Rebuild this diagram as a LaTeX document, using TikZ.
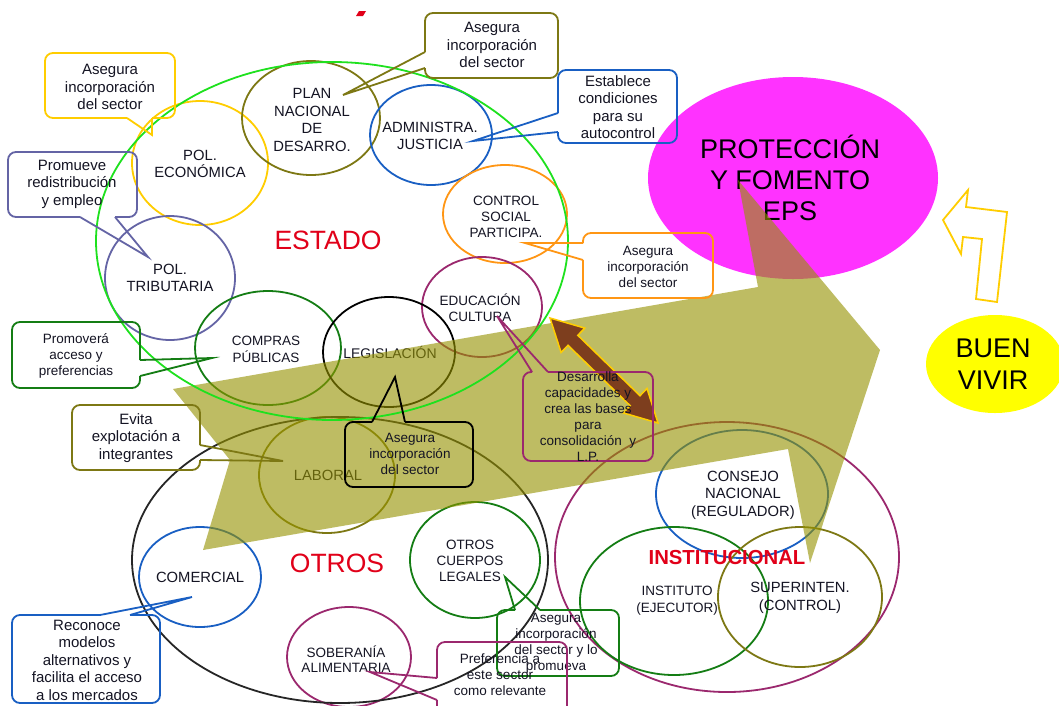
\documentclass[tikz,border=0pt]{standalone}
\usepackage{fontspec}
\setmainfont{Liberation Sans}
\usetikzlibrary{shapes.geometric}
\definecolor{cGold}{RGB}{255,205,0}
\definecolor{cOlive}{RGB}{125,120,20}
\definecolor{cBlue}{RGB}{25,95,195}
\definecolor{cPurp}{RGB}{100,100,165}
\definecolor{cOrng}{RGB}{255,150,20}
\definecolor{cCrim}{RGB}{155,40,110}
\definecolor{cGrn}{RGB}{20,125,20}
\definecolor{cLime}{RGB}{30,225,30}
\definecolor{cRed}{RGB}{225,0,25}
\definecolor{cMag}{RGB}{255,50,255}
\definecolor{cYel}{RGB}{255,255,0}
\definecolor{cArw}{RGB}{150,147,0}
\definecolor{cBrn}{RGB}{125,62,30}
\definecolor{cTxt}{RGB}{20,20,35}
\begin{document}
\begin{tikzpicture}[x=1pt,y=-1pt,
  ring/.style={ellipse,line width=1.8pt,inner sep=0pt,outer sep=0pt},
  lab/.style={align=center,text=cTxt,inner sep=0pt,font=\fontsize{14.8}{17.5}\selectfont},
  labm/.style={align=center,text=cTxt,inner sep=0pt,font=\fontsize{13.5}{16}\selectfont},
  cl/.style={align=center,text=cTxt,inner sep=0pt,font=\fontsize{15}{17.5}\selectfont},
  clm/.style={align=center,text=cTxt,inner sep=0pt,font=\fontsize{13.5}{16}\selectfont},
  big/.style={align=center,text=cRed,inner sep=0pt,font=\fontsize{26.5}{30}\selectfont},
  cbox/.style={line width=1.8pt,line join=round,rounded corners=8pt},
  ctail/.style={line width=1.8pt,line join=miter},
]
\useasboundingbox (0,0) rectangle (1059,705);
\clip (0,0) rectangle (1059,705);
\fill[white] (0,0) rectangle (1059,705);

% small red mark
\fill[cRed] (356,16) -- (359,11) -- (366,11) -- (363,16) -- cycle;

% goal ellipse
\node[ring, fill=cMag, minimum width=290pt, minimum height=202pt] (prot) at (793,178) {};
\node[lab, text=black, font=\fontsize{27}{31}\selectfont] (protT) at (790,178) {PROTECCIÓN\\Y FOMENTO\\EPS};

% buen vivir
\node[ring, fill=cYel, minimum width=138pt, minimum height=98pt] (buen) at (995,364) {};
\node[lab, text=black, font=\fontsize{27}{32}\selectfont] (buenT) at (993,364) {BUEN\\VIVIR};

% bent outline arrow
\draw[cGold, line width=1.8pt, line join=miter] (943,220) -- (968,190) -- (966,207) -- (1007,212) -- (997,302) -- (976,299) -- (982,239) -- (963,237) -- (961,254) -- cycle;

% circles
\node[ring, draw=cGold, minimum width=136pt, minimum height=124pt] (pe) at (200,163) {};
\node[ring, draw=cOlive, minimum width=138pt, minimum height=114pt] (pnd) at (311,118) {};
\node[ring, draw=cBlue, minimum width=122pt, minimum height=100pt] (aj) at (431,135) {};
\node[ring, draw=cPurp, minimum width=130pt, minimum height=124pt] (pt) at (170,278) {};
\node[ring, draw=cOrng, minimum width=124pt, minimum height=98pt] (csp) at (505,214) {};
\node[ring, draw=cCrim, minimum width=120pt, minimum height=100pt] (edu) at (482,307) {};
\node[ring, draw=cGrn, minimum width=146pt, minimum height=114pt] (cp) at (268,348) {};
\node[ring, draw=black, minimum width=132pt, minimum height=110pt] (leg) at (389,352) {};
\node[ring, draw=cOlive, minimum width=136pt, minimum height=116pt] (lab) at (327,475) {};
\node[ring, draw=cBlue, minimum width=122pt, minimum height=100pt] (com) at (200,577) {};
\node[ring, draw=cGrn, minimum width=130pt, minimum height=116pt] (ocl) at (475,560) {};
\node[ring, draw=cCrim, minimum width=124pt, minimum height=100pt] (sob) at (349,657) {};
\node[ring, draw=black!85, minimum width=416pt, minimum height=286pt] (otros) at (340,560) {};
\node[ring, draw=cCrim, minimum width=344pt, minimum height=270pt] (inst) at (727,557) {};
\node[ring, draw=cBlue, minimum width=172pt, minimum height=128pt] (cons) at (742,494) {};
\node[ring, draw=cGrn, minimum width=188pt, minimum height=148pt] (ejec) at (674,601) {};
\node[ring, draw=cOlive, minimum width=164pt, minimum height=140pt] (sup) at (800,597) {};

% circle labels
\node[lab] (peT) at (200,164) {POL.\\ECONÓMICA};
\node[lab] (pndT) at (312,120) {PLAN\\NACIONAL\\DE\\DESARRO.};
\node[lab] (ajT) at (430,136) {ADMINISTRA.\\JUSTICIA};
\node[lab] (ptT) at (170,278) {POL.\\TRIBUTARIA};
\node[labm] (cspT) at (506,217) {CONTROL\\SOCIAL\\PARTICIPA.};
\node[labm] (eduT) at (480,308) {EDUCACIÓN\\CULTURA};
\node[labm, font=\fontsize{13.5}{17}\selectfont] (cpT) at (266,349) {COMPRAS\\PÚBLICAS};
\node[lab, font=\fontsize{14}{17}\selectfont] (legT) at (390,352) {LEGISLACIÓN};
\node[lab] (labT) at (328,475) {LABORAL};
\node[lab] (comT) at (200,577) {COMERCIAL};
\node[labm] (oclT) at (470,561) {OTROS\\CUERPOS\\LEGALES};
\node[labm, font=\fontsize{13.5}{15}\selectfont] (sobT) at (346,659) {SOBERANÍA\\ALIMENTARIA};
\node[lab] (consT) at (743,495) {CONSEJO\\NACIONAL\\(REGULADOR)};
\node[labm, font=\fontsize{13.5}{17}\selectfont] (ejecT) at (677,601) {INSTITUTO\\(EJECUTOR)};
\node[lab] (supT) at (800,598) {SUPERINTEN.\\(CONTROL)};
\node[big] (estT) at (328,240) {ESTADO};
\node[big] (otrT) at (337,563) {OTROS};

% big translucent arrow
\fill[cArw, fill opacity=0.61] (173,389) -- (758,287) -- (738,180) -- (880,350) -- (810,563) -- (788,449) -- (203,550) -- (230,460) -- cycle;

% state ellipse on top
\node[ring, draw=cLime, minimum width=472pt, minimum height=358pt] (estado) at (332,241) {};
\node[big, font=\bfseries\fontsize{20.3}{24}\selectfont] (insT) at (727,557) {INSTITUCIONAL};

% brown double arrow
\filldraw[fill=cBrn, draw=cGold, line width=1.5pt, line join=miter] (550,318) -- (584.8,328.1) -- (577.8,335.3) -- (640.0,395.7) -- (647.0,388.5) -- (658,423) -- (623.3,412.9) -- (630.2,405.7) -- (568.0,345.3) -- (561.1,352.5) -- cycle;

% callouts
\draw[cbox, cGold] (152,118) -- (175,118) -- (175,53) -- (45,53) -- (45,118) -- (127,118);
\draw[ctail, cGold] (127,118) -- (152,135) -- (152,118);
\node[cl] (c1) at (110,87) {Asegura\\incorporación\\del sector};

\draw[cbox, cOlive] (425,52) -- (425,13) -- (558,13) -- (558,78) -- (425,78) -- (425,68);
\draw[ctail, cOlive] (425,52) -- (343,95) -- (425,68);
\node[cl] (c2) at (492,45) {Asegura\\incorporación\\del sector};

\draw[cbox, cBlue] (558,113) -- (558,70) -- (677,70) -- (677,143) -- (558,143) -- (558,132);
\draw[ctail, cBlue] (558,113) -- (473,141) -- (558,132);
\node[cl] (c3) at (618,107) {Establece\\condiciones\\para su\\autocontrol};

\draw[cbox, cPurp] (115,217) -- (137,217) -- (137,152) -- (8,152) -- (8,217) -- (80,217);
\draw[ctail, cPurp] (80,217) -- (148,257) -- (115,217);
\node[cl] (c4) at (72,184) {Promueve\\redistribución\\y empleo};

\draw[cbox, cOrng] (583,260) -- (583,298) -- (713,298) -- (713,233) -- (583,233) -- (583,243);
\draw[ctail, cOrng] (583,243) -- (525,243) -- (583,260);
\node[clm] (c5) at (648,267) {Asegura\\incorporación\\del sector};

\draw[cbox, cGrn] (140,360) -- (140,322) -- (12,322) -- (12,388) -- (140,388) -- (140,376);
\draw[ctail, cGrn] (140,360) -- (212,358) -- (140,376);
\node[clm] (c6) at (76,356) {Promoverá\\acceso y\\preferencias};

\draw[cbox, cOlive] (200,445) -- (200,405) -- (72,405) -- (72,470) -- (200,470) -- (200,460);
\draw[ctail, cOlive] (200,445) -- (283,461) -- (200,460);
\node[cl] (c7) at (136,438) {Evita\\explotación a\\integrantes};

\draw[cbox, black] (405,422) -- (473,422) -- (473,487) -- (345,487) -- (345,422) -- (372,422);
\draw[ctail, black] (372,422) -- (395,377) -- (405,422);
\node[clm] (c8) at (410,454) {Asegura\\incorporación\\del sector};

\draw[cbox, cCrim] (548,372) -- (653,372) -- (653,461) -- (523,461) -- (523,372) -- (532,372);
\draw[ctail, cCrim] (532,372) -- (497,316) -- (548,372);
\node[clm] (c9) at (588,417) {Desarrolla\\capacidades y\\crea las bases\\para\\consolidación\ \ y\\L.P.};

\draw[cbox, cGrn] (540,610) -- (619,610) -- (619,676) -- (497,676) -- (497,610) -- (515,610);
\draw[ctail, cGrn] (515,610) -- (505,577) -- (540,610);
\node[clm] (c10) at (556,643) {Asegura\\incorporación\\del sector y lo\\promueva};

\draw[cbox, cCrim] (437,700) -- (437,715) -- (567,715) -- (567,642) -- (437,642) -- (437,678);
\draw[ctail, cCrim] (437,678) -- (370,672) -- (437,700);
\node[clm] (c11) at (500,675) {Preferencia a\\este sector\\como relevante};

\draw[cbox, cBlue] (130,615) -- (160,615) -- (160,703) -- (12,703) -- (12,615) -- (100,615);
\draw[ctail, cBlue] (100,615) -- (192,597) -- (130,615);
\node[cl] (c12) at (87,660) {Reconoce\\modelos\\alternativos y\\facilita el acceso\\a los mercados};
\end{tikzpicture}
\end{document}
